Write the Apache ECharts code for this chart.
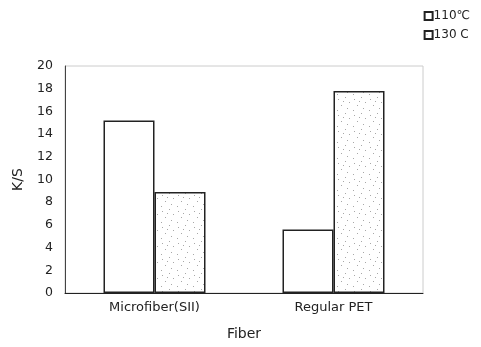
<!DOCTYPE html>
<html><head><meta charset="utf-8">
<script src="https://cdn.jsdelivr.net/npm/echarts@6/dist/echarts.min.js"></script>
<style>html,body{margin:0;padding:0;background:#fff}#c{width:481px;height:347px}</style>
</head><body><div id="c"></div>
<script>
const categories = ['Microfiber(SII)', 'Regular PET'];
const seriesNames = ['110\u2103', '130 C'];
const values110 = [15.2, 5.6];
const values130 = [8.9, 17.8];
const yTicks = [0, 2, 4, 6, 8, 10, 12, 14, 16, 18, 20];

function dotPattern() {
  const c = document.createElement('canvas');
  c.width = 16; c.height = 16;
  const g = c.getContext('2d');
  g.fillStyle = '#ffffff'; g.fillRect(0, 0, 16, 16);
  g.fillStyle = '#a8a8a8';
  [[2,3],[9,1],[13,6],[5,9],[11,12],[1,14],[7,5]].forEach(p => g.fillRect(p[0], p[1], 1, 1));
  return c;
}

const chart = echarts.init(document.getElementById('c'), null, {renderer: 'canvas'});
const font = 'DejaVu Sans, Liberation Sans, sans-serif';
chart.setOption({
  animation: false,
  textStyle: {fontFamily: font},
  grid: {left: 65, right: 58, top: 66, bottom: 54, show: true, borderColor: '#cccccc', borderWidth: 1},
  legend: {
    orient: 'vertical', right: 6, top: 5, itemGap: 7,
    itemWidth: 8, itemHeight: 8, icon: 'rect',
    textStyle: {fontSize: 12, color: '#222', fontFamily: font, padding: [0,0,0,-4]},
    data: seriesNames
  },
  xAxis: {
    type: 'category', data: categories,
    name: 'Fiber', nameLocation: 'middle', nameGap: 34,
    nameTextStyle: {fontSize: 14, color: '#222'},
    axisLine: {lineStyle: {color: '#222', width: 1}},
    axisTick: {show: false},
    axisLabel: {fontSize: 13, color: '#222', margin: 8}
  },
  yAxis: {
    type: 'value', min: 0, max: 20, interval: 2,
    name: 'K/S', nameLocation: 'middle', nameGap: 40, nameRotate: 90,
    nameTextStyle: {fontSize: 14, color: '#222'},
    axisLine: {show: true, lineStyle: {color: '#444', width: 1}},
    axisTick: {show: false},
    splitLine: {show: false},
    axisLabel: {fontSize: 12.5, color: '#222', margin: 12,
      formatter: v => yTicks.includes(v) ? String(v) : ''}
  },
  series: [
    {name: seriesNames[0], type: 'bar', data: values110, barWidth: 51, barGap: '0%',
     itemStyle: {color: '#ffffff', borderColor: '#222', borderWidth: 1.5}},
    {name: seriesNames[1], type: 'bar', data: values130, barWidth: 51,
     itemStyle: {color: {image: dotPattern(), repeat: 'repeat'}, borderColor: '#222', borderWidth: 1.5}}
  ]
});
</script></body></html>
